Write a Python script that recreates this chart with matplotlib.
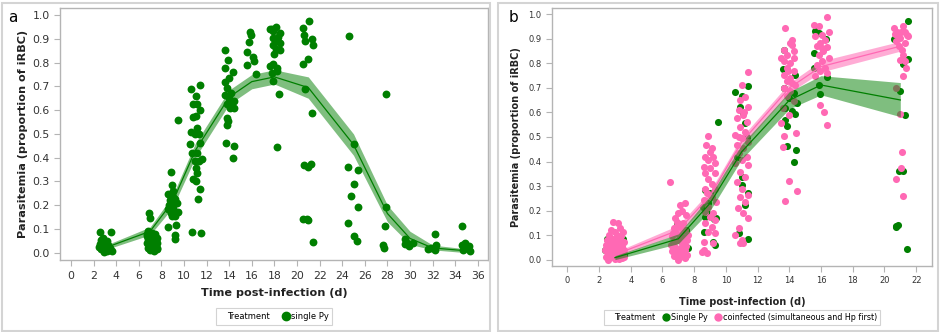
import matplotlib
matplotlib.use('Agg')
import matplotlib.pyplot as plt
from matplotlib.lines import Line2D
from matplotlib.patches import Rectangle

# Panel a: single Py infection, parasitemia per mouse (jittered day, proportion iRBC).
single_a = [
    (2.57, 0.087), (3.5, 0.086), (2.86, 0.062), (3.16, 0.048), (2.57, 0.037), (2.95, 0.027),
    (3.45, 0.02), (2.7, 0.017), (3.16, 0.008), (3.6, 0.008), (2.5, 0.022), (3.3, 0.031),
    (2.8, 0.045), (3.05, 0.015), (2.65, 0.055), (3.2, 0.012), (2.9, 0.005), (3.4, 0.01),
    (6.9, 0.168), (7.0, 0.144), (6.84, 0.091), (7.14, 0.084), (7.43, 0.077), (6.7, 0.07),
    (7.0, 0.067), (7.58, 0.063), (6.84, 0.056), (7.3, 0.053), (7.14, 0.045), (7.58, 0.042),
    (6.7, 0.039), (7.0, 0.031), (7.43, 0.028), (6.84, 0.021), (7.2, 0.017), (7.58, 0.021),
    (7.0, 0.011), (7.35, 0.007), (7.64, 0.014), (6.9, 0.049), (7.35, 0.07), (6.75, 0.08),
    (7.25, 0.035), (7.5, 0.05), (6.95, 0.075), (7.1, 0.025),
    (8.85, 0.339), (8.9, 0.287), (8.6, 0.245), (9.05, 0.235), (8.76, 0.221), (9.2, 0.227),
    (8.85, 0.203), (9.05, 0.189), (8.6, 0.182), (9.44, 0.172), (8.85, 0.167), (9.2, 0.153),
    (8.6, 0.108), (9.26, 0.115), (9.2, 0.076), (9.2, 0.058), (9.35, 0.21), (8.97, 0.153),
    (9.0, 0.26), (8.7, 0.2),
    (9.5, 0.559), (10.6, 0.688), (11.4, 0.706), (11.06, 0.66), (10.8, 0.625), (11.18, 0.625),
    (11.4, 0.6), (11.06, 0.575), (10.83, 0.573), (11.18, 0.526), (10.6, 0.508), (10.97, 0.5),
    (11.36, 0.498), (11.4, 0.463), (10.53, 0.456), (10.68, 0.421), (11.12, 0.418), (10.97, 0.386),
    (11.56, 0.393), (11.06, 0.357), (11.18, 0.336), (10.76, 0.312), (11.06, 0.301), (11.4, 0.27),
    (11.27, 0.224), (10.74, 0.087), (11.47, 0.083), (11.36, 0.386),
    (13.6, 0.854), (13.9, 0.812), (13.6, 0.777), (14.3, 0.761), (13.65, 0.72), (14.0, 0.737),
    (13.8, 0.695), (14.2, 0.674), (14.0, 0.653), (14.4, 0.639), (13.8, 0.625), (14.07, 0.611),
    (14.45, 0.611), (13.8, 0.568), (13.9, 0.554), (13.78, 0.537), (13.7, 0.463), (14.4, 0.449),
    (14.36, 0.397), (14.1, 0.632), (13.6, 0.664),
    (15.84, 0.927), (15.78, 0.885), (15.6, 0.843), (16.08, 0.824), (16.2, 0.808), (15.6, 0.791),
    (16.4, 0.751), (15.9, 0.915),
    (17.6, 0.942), (18.14, 0.951), (17.9, 0.932), (18.5, 0.925), (17.85, 0.904), (18.26, 0.894),
    (18.5, 0.883), (17.9, 0.876), (18.14, 0.858), (18.5, 0.852), (17.96, 0.838), (17.9, 0.796),
    (17.6, 0.787), (18.2, 0.777), (17.76, 0.756), (18.26, 0.763), (17.85, 0.724), (18.44, 0.668),
    (18.26, 0.446), (17.76, 0.94), (18.35, 0.91),
    (21.1, 0.975), (20.56, 0.946), (20.65, 0.918), (21.3, 0.9), (20.7, 0.89), (21.4, 0.876),
    (20.94, 0.815), (20.56, 0.796), (20.7, 0.689), (21.3, 0.587), (20.6, 0.369), (21.2, 0.372),
    (21.0, 0.362), (20.56, 0.143), (21.0, 0.136), (20.86, 0.14), (21.4, 0.045),
    (24.6, 0.914), (25.07, 0.456), (24.5, 0.362), (25.4, 0.35), (25.07, 0.288), (24.75, 0.238),
    (25.4, 0.194), (24.5, 0.123), (25.07, 0.07), (25.3, 0.049),
    (27.85, 0.668), (27.9, 0.194), (27.8, 0.112), (27.64, 0.032), (27.7, 0.021),
    (29.56, 0.056), (29.76, 0.039), (30.3, 0.039), (29.9, 0.028), (29.56, 0.035),
    (31.56, 0.017), (32.2, 0.077), (32.3, 0.031), (32.2, 0.011), (31.9, 0.021),
    (34.57, 0.112), (34.57, 0.031), (34.87, 0.039), (35.0, 0.021), (34.7, 0.011), (35.2, 0.028),
    (35.3, 0.007),
]

# Panel a: fitted mean and confidence band.
fit_days_a = [3, 7, 9, 11, 14, 16, 18, 21, 25, 28, 30, 32, 35]
fit_mean_a = [0.02, 0.09, 0.215, 0.43, 0.655, 0.72, 0.74, 0.695, 0.455, 0.165, 0.06, 0.02, 0.008]
fit_lo_a = [0.012, 0.075, 0.19, 0.40, 0.625, 0.69, 0.71, 0.65, 0.41, 0.13, 0.035, 0.012, 0.0]
fit_hi_a = [0.03, 0.108, 0.24, 0.46, 0.685, 0.75, 0.77, 0.74, 0.50, 0.20, 0.09, 0.032, 0.016]

# Panel b: single Py vs coinfected.
single_b = [
    (2.5, 0.085), (3.5, 0.085), (2.6, 0.06), (3.4, 0.05), (2.8, 0.03), (3.2, 0.02), (2.7, 0.01),
    (3.3, 0.005), (2.4, 0.04), (3.6, 0.02),
    (7.0, 0.022), (7.2, 0.015), (7.6, 0.049), (6.8, 0.03), (7.4, 0.01), (6.6, 0.06), (7.1, 0.09),
    (7.5, 0.12), (6.9, 0.15),
    (9.5, 0.56), (8.7, 0.284), (8.55, 0.216), (8.7, 0.175), (9.4, 0.168), (8.6, 0.114),
    (9.2, 0.073), (9.3, 0.06), (8.8, 0.189), (9.0, 0.27), (9.25, 0.165), (8.9, 0.23),
    (10.55, 0.685), (11.4, 0.709), (11.0, 0.667), (10.9, 0.624), (11.1, 0.596), (11.2, 0.556),
    (11.0, 0.338), (11.0, 0.304), (11.4, 0.27), (11.2, 0.223), (11.4, 0.084), (10.8, 0.107),
    (10.7, 0.42), (11.3, 0.5),
    (13.65, 0.853), (13.6, 0.779), (14.37, 0.754), (13.65, 0.7), (14.27, 0.679), (13.96, 0.659),
    (14.48, 0.639), (13.75, 0.618), (14.17, 0.605), (14.37, 0.594), (13.85, 0.543),
    (13.75, 0.571), (14.4, 0.448), (14.3, 0.398), (13.85, 0.462),
    (15.64, 0.931), (15.54, 0.842), (15.85, 0.924), (15.54, 0.781), (16.4, 0.745),
    (15.85, 0.713), (15.96, 0.675), (16.3, 0.9),
    (21.5, 0.974), (20.6, 0.9), (21.5, 0.818), (21.2, 0.798), (21.0, 0.689), (21.27, 0.588),
    (20.93, 0.361), (21.2, 0.363), (20.72, 0.136), (20.84, 0.14), (20.76, 0.132), (21.43, 0.045),
]

coinf_b = [
    (2.9, 0.155), (3.2, 0.151), (3.5, 0.114), (2.98, 0.114), (2.6, 0.1), (3.1, 0.1), (3.4, 0.095),
    (2.7, 0.09), (2.5, 0.08), (2.85, 0.085), (3.3, 0.08), (3.55, 0.07), (2.6, 0.07), (3.0, 0.07),
    (2.45, 0.06), (2.75, 0.06), (3.2, 0.06), (3.45, 0.055), (2.55, 0.05), (2.9, 0.05),
    (3.3, 0.045), (3.6, 0.04), (2.4, 0.04), (2.7, 0.04), (3.05, 0.04), (2.5, 0.03), (2.85, 0.03),
    (3.2, 0.03), (3.5, 0.025), (2.6, 0.02), (3.0, 0.02), (3.35, 0.015), (2.45, 0.012),
    (2.8, 0.01), (3.15, 0.008), (3.45, 0.006), (2.65, 0.005), (3.0, 0.003), (3.55, 0.01),
    (2.55, 0.0), (3.25, 0.002), (2.75, 0.12), (3.35, 0.13), (3.1, 0.085), (2.95, 0.045),
    (6.5, 0.318), (7.1, 0.223), (7.4, 0.23), (6.9, 0.155), (7.2, 0.2), (6.8, 0.17), (7.5, 0.18),
    (7.0, 0.14), (7.3, 0.15), (6.7, 0.13), (7.45, 0.12), (6.85, 0.11), (7.15, 0.1), (6.6, 0.095),
    (7.35, 0.09), (7.55, 0.08), (6.95, 0.08), (6.7, 0.07), (7.2, 0.065), (7.5, 0.055),
    (6.8, 0.05), (7.05, 0.045), (7.4, 0.04), (6.6, 0.035), (6.9, 0.03), (7.25, 0.025),
    (7.55, 0.02), (6.75, 0.015), (7.1, 0.01), (7.45, 0.005), (6.95, 0.0), (7.3, 0.06),
    (6.65, 0.11), (7.0, 0.19), (7.6, 0.1), (6.55, 0.06), (6.85, 0.135), (7.25, 0.125),
    (8.9, 0.504), (8.76, 0.467), (9.1, 0.454), (8.7, 0.42), (9.2, 0.42), (8.9, 0.406),
    (9.3, 0.393), (8.6, 0.379), (9.0, 0.372), (8.7, 0.352), (9.3, 0.352), (8.9, 0.33),
    (9.1, 0.31), (8.7, 0.29), (9.3, 0.29), (8.8, 0.27), (9.1, 0.257), (8.6, 0.243), (9.4, 0.236),
    (8.9, 0.216), (8.7, 0.196), (9.2, 0.189), (9.0, 0.175), (9.3, 0.162), (8.7, 0.148),
    (9.1, 0.135), (8.9, 0.114), (9.3, 0.107), (8.6, 0.073), (8.8, 0.026), (9.2, 0.067),
    (8.63, 0.04), (8.5, 0.032), (9.0, 0.44),
    (11.4, 0.764), (11.0, 0.712), (11.2, 0.664), (10.9, 0.651), (11.4, 0.624), (10.8, 0.61),
    (11.1, 0.59), (10.7, 0.576), (11.3, 0.562), (10.9, 0.542), (11.2, 0.52), (10.6, 0.508),
    (11.0, 0.495), (11.4, 0.481), (10.7, 0.467), (11.1, 0.454), (10.8, 0.433), (11.3, 0.42),
    (11.0, 0.406), (10.6, 0.393), (11.4, 0.386), (10.9, 0.359), (11.2, 0.338), (10.7, 0.318),
    (11.0, 0.29), (10.9, 0.257), (11.4, 0.264), (11.2, 0.236), (10.75, 0.209), (11.1, 0.189),
    (11.4, 0.171), (10.6, 0.1), (11.0, 0.08), (11.1, 0.069), (10.8, 0.128), (10.9, 0.069),
    (11.15, 0.6), (10.85, 0.5),
    (13.75, 0.944), (14.17, 0.876), (13.65, 0.856), (14.3, 0.849), (13.85, 0.836),
    (14.27, 0.822), (13.65, 0.808), (14.06, 0.802), (13.85, 0.781), (14.27, 0.768),
    (13.65, 0.754), (14.06, 0.74), (13.85, 0.727), (14.37, 0.713), (13.65, 0.7), (14.06, 0.686),
    (13.85, 0.666), (14.27, 0.645), (13.6, 0.618), (13.96, 0.591), (13.5, 0.557), (14.4, 0.516),
    (13.65, 0.503), (13.6, 0.458), (14.0, 0.319), (14.48, 0.279), (13.7, 0.238), (14.06, 0.883),
    (13.5, 0.822), (14.17, 0.897), (13.9, 0.77), (14.2, 0.72),
    (16.35, 0.988), (15.54, 0.955), (15.85, 0.951), (16.5, 0.928), (16.07, 0.917),
    (15.64, 0.91), (16.28, 0.897), (15.96, 0.883), (15.75, 0.87), (16.38, 0.865),
    (16.12, 0.849), (15.85, 0.836), (16.5, 0.822), (16.07, 0.808), (15.75, 0.795),
    (16.28, 0.781), (15.96, 0.768), (16.38, 0.761), (15.64, 0.747), (16.07, 0.863),
    (15.96, 0.632), (16.2, 0.602), (16.4, 0.548),
    (20.6, 0.944), (21.2, 0.951), (20.8, 0.928), (21.4, 0.917), (21.0, 0.904), (20.7, 0.89),
    (21.3, 0.883), (20.9, 0.87), (21.5, 0.91), (21.1, 0.856), (21.2, 0.836), (21.3, 0.808),
    (21.0, 0.815), (21.36, 0.781), (21.18, 0.747), (20.7, 0.7), (21.0, 0.594), (21.1, 0.439),
    (21.07, 0.374), (20.7, 0.33), (21.2, 0.258), (20.8, 0.914), (21.28, 0.93), (21.05, 0.93),
    (20.65, 0.92),
]

fit_days_b = [3, 7, 9, 11, 14, 16, 21]
single_mean_b = [0.008, 0.085, 0.23, 0.44, 0.65, 0.712, 0.651]
single_lo_b = [0.0, 0.065, 0.2, 0.41, 0.615, 0.672, 0.583]
single_hi_b = [0.016, 0.105, 0.26, 0.47, 0.685, 0.75, 0.722]
coinf_mean_b = [0.02, 0.12, 0.26, 0.48, 0.70, 0.787, 0.87]
coinf_lo_b = [0.012, 0.105, 0.24, 0.46, 0.68, 0.765, 0.85]
coinf_hi_b = [0.03, 0.14, 0.28, 0.50, 0.72, 0.81, 0.89]

GREEN = '#007F00'
PINK = '#FF69B4'
GRAY = '#B4B4B4'
TXT = '#333333'


def style_axes(ax, xticks, fs_tick, fs_lab):
    for s in ax.spines.values():
        s.set_color(GRAY)
        s.set_linewidth(1.0)
    ax.set_xticks(xticks)
    ax.set_yticks([i / 10 for i in range(11)])
    ax.set_yticklabels(['%.1f' % (i / 10) for i in range(11)])
    ax.tick_params(colors=GRAY, labelcolor=TXT, labelsize=fs_tick, length=4, width=0.8)
    ax.set_xlabel('Time post-infection (d)', fontsize=fs_lab, fontweight='bold', color='#222222')
    ax.set_ylabel('Parasitemia (proportion of iRBC)', fontsize=fs_lab, fontweight='bold',
                  color='#222222')


fig = plt.figure(figsize=(9.4, 3.32), dpi=100)

# panel frames
fig.add_artist(Rectangle((1.5 / 940, 1.5 / 332), 488 / 940, 328 / 332, transform=fig.transFigure,
                         fill=False, edgecolor='#D4D4D4', linewidth=1.5))
fig.add_artist(Rectangle((497.5 / 940, 1.5 / 332), 440 / 940, 328 / 332, transform=fig.transFigure,
                         fill=False, edgecolor='#D4D4D4', linewidth=1.5))

# ---- panel a
ax1 = fig.add_axes([60 / 940, 1 - 260.3 / 332, 428 / 940, 252.3 / 332])
xa, ya = zip(*single_a)
ax1.scatter(xa, ya, s=32, color=GREEN, linewidths=0, zorder=2)
ax1.fill_between(fit_days_a, fit_lo_a, fit_hi_a, color=GREEN, alpha=0.5, linewidth=0, zorder=3)
ax1.plot(fit_days_a, fit_mean_a, color=GREEN, linewidth=0.9, zorder=4)
ax1.set_xlim(-0.97, 36.9)
style_axes(ax1, range(0, 37, 2), 7.8, 8.1)
ax1.set_ylim(-0.032, 1.03)
ax1.xaxis.labelpad = 5
ax1.yaxis.labelpad = 3
h = [Line2D([], [], linestyle='none', label='Treatment'),
     Line2D([], [], marker='o', linestyle='none', color=GREEN, markersize=6, label='single Py')]
leg = ax1.legend(handles=h, loc='center', bbox_to_anchor=(0.5, -0.223), ncol=2, fontsize=6,
                 frameon=True, fancybox=False, edgecolor='#C8C8C8', handlelength=0.6,
                 handletextpad=0.3, columnspacing=1.6, borderpad=0.45)
leg.get_frame().set_linewidth(0.8)
fig.text(13 / 940, 1 - 17 / 332, 'a', fontsize=11, ha='center', va='center')

# ---- panel b
ax2 = fig.add_axes([552 / 940, 1 - 266 / 332, 380 / 940, 258 / 332])
xs, ys = zip(*single_b)
xc, yc = zip(*coinf_b)
ax2.scatter(xs, ys, s=26, color=GREEN, linewidths=0, zorder=2)
ax2.scatter(xc, yc, s=26, color=PINK, linewidths=0, zorder=2.1)
ax2.fill_between(fit_days_b, coinf_lo_b, coinf_hi_b, color=PINK, alpha=0.55, linewidth=0, zorder=3)
ax2.fill_between(fit_days_b, single_lo_b, single_hi_b, color=GREEN, alpha=0.5, linewidth=0,
                 zorder=3.1)
ax2.plot(fit_days_b, coinf_mean_b, color=PINK, linewidth=0.9, zorder=4)
ax2.plot(fit_days_b, single_mean_b, color=GREEN, linewidth=0.9, zorder=4)
ax2.set_xlim(-0.97, 23.0)
style_axes(ax2, range(0, 23, 2), 6, 7)
ax2.set_ylim(-0.026, 1.026)
ax2.xaxis.labelpad = 8
ax2.yaxis.labelpad = 5
h = [Line2D([], [], linestyle='none', label='Treatment'),
     Line2D([], [], marker='o', linestyle='none', color=GREEN, markersize=5, label='Single Py'),
     Line2D([], [], marker='o', linestyle='none', color=PINK, markersize=5,
            label='coinfected (simultaneous and Hp first)')]
leg = ax2.legend(handles=h, loc='center', bbox_to_anchor=(0.5, -0.2), ncol=3, fontsize=5.8,
                 frameon=True, fancybox=False, edgecolor='#C8C8C8', handlelength=0.6,
                 handletextpad=0.3, columnspacing=1.0, borderpad=0.35)
leg.get_frame().set_linewidth(0.8)
fig.text(514 / 940, 1 - 18 / 332, 'b', fontsize=11, ha='center', va='center')

fig.savefig('out.png', dpi=100)
